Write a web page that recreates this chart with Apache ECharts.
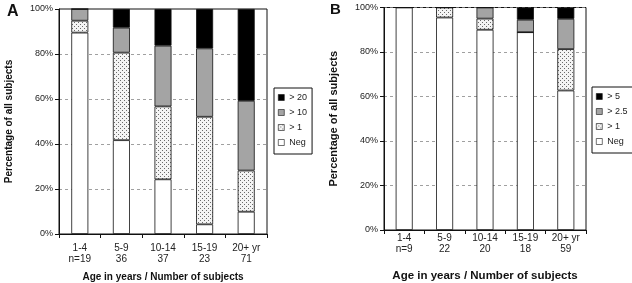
<!DOCTYPE html>
<html>
<head>
<meta charset="utf-8">
<script src="https://cdn.jsdelivr.net/npm/echarts@6/dist/echarts.min.js"></script>
<style>
html, body { margin: 0; padding: 0; background: #fff; }
#chart { width: 632px; height: 283px; }
</style>
</head>
<body>
<div id="chart"></div>
<script>
// categories (age group + number of subjects)
var catsA = ['1-4\nn=19', '5-9\n36', '10-14\n37', '15-19\n23', '20+ yr\n71'];
var catsB = ['1-4\nn=9', '5-9\n22', '10-14\n20', '15-19\n18', '20+ yr\n59'];

// panel A, percent of subjects
var negA = [89.5, 41.7, 24.3, 4.3, 9.9];
var gt1A = [5.3, 38.9, 32.4, 47.8, 18.3];
var gt10A = [5.2, 11.1, 27.0, 30.4, 31.0];
var gt20A = [0, 8.3, 16.3, 17.5, 40.8];

// panel B, percent of subjects
var negB = [100, 95.5, 90, 88.9, 62.7];
var gt1B = [0, 4.5, 5, 0, 18.6];
var gt25B = [0, 0, 5, 5.6, 13.6];
var gt5B = [0, 0, 0, 5.5, 5.1];

var yTicks = [0, 20, 40, 60, 80, 100];

// dotted fill
function dots() {
  var c = document.createElement('canvas');
  c.width = 4; c.height = 4;
  var ctx = c.getContext('2d');
  ctx.fillStyle = '#f4f4f4';
  ctx.fillRect(0, 0, 4, 4);
  ctx.fillStyle = '#6a6a6a';
  ctx.fillRect(0, 0, 1, 1);
  ctx.fillRect(2, 2, 1, 1);
  return c;
}
var dotFill = { image: dots(), repeat: 'repeat' };

var font = 'Liberation Sans, Arial, sans-serif';

function bar(name, data, color, idx, stack) {
  return {
    name: name,
    type: 'bar',
    stack: stack,
    xAxisIndex: idx,
    yAxisIndex: idx,
    barWidth: 17,
    data: data,
    itemStyle: { color: color, borderColor: '#111', borderWidth: 0.8 },
    emphasis: { disabled: true }
  };
}

function xAx(idx, cats, gap, fs, margin) {
  return {
    type: 'category',
    gridIndex: idx,
    data: cats,
    name: 'Age in years / Number of subjects',
    nameLocation: 'middle',
    nameGap: gap,
    nameTextStyle: { fontFamily: font, fontSize: fs, fontWeight: 'bold', color: '#111' },
    axisLine: { lineStyle: { color: '#111', width: 1 } },
    axisTick: { show: true, length: 4, lineStyle: { color: '#111' } },
    axisLabel: { fontFamily: font, fontSize: 10, color: '#222', lineHeight: 11, margin: margin }
  };
}

function yAx(idx, gap, fs) {
  return {
    type: 'value',
    gridIndex: idx,
    min: 0, max: 100, interval: 20,
    name: 'Percentage of all subjects',
    nameLocation: 'middle',
    nameGap: gap,
    nameTextStyle: { fontFamily: font, fontSize: fs, fontWeight: 'bold', color: '#111' },
    axisLine: { show: true, lineStyle: { color: '#111', width: 1 } },
    axisTick: { show: true, length: 4, lineStyle: { color: '#111' } },
    axisLabel: { fontFamily: font, fontSize: 9, color: '#222', margin: 6,
      formatter: function (v) { return yTicks.indexOf(v) >= 0 ? v + '%' : ''; } },
    splitLine: { show: true, lineStyle: { color: '#888', type: [3, 3], width: 0.8 } }
  };
}

var chart = echarts.init(document.getElementById('chart'), null, { renderer: 'canvas' });

var legendStyle = {
  orient: 'vertical',
  icon: 'rect',
  itemWidth: 6,
  itemHeight: 6,
  itemGap: 4,
  padding: [4, 5, 6, 4],
  borderColor: '#111',
  borderWidth: 1,
  selectedMode: false,
  itemStyle: { borderColor: '#111', borderWidth: 0.6 },
  textStyle: { fontFamily: font, fontSize: 9, color: '#222', lineHeight: 11 }
};

chart.setOption({
  animation: false,
  title: [
    { text: 'A', left: 7, top: 4, padding: 0, textStyle: { fontFamily: font, fontSize: 16, fontWeight: 'bold', color: '#111' } },
    { text: 'B', left: 330, top: 2, padding: 0, textStyle: { fontFamily: font, fontSize: 15, fontWeight: 'bold', color: '#111' } }
  ],
  grid: [
    { left: 59, top: 9, width: 208, height: 225, outerBoundsMode: 'none', show: true, borderColor: '#111', borderWidth: 1, backgroundColor: 'transparent' },
    { left: 384, top: 7.5, width: 202, height: 222.5, outerBoundsMode: 'none', show: true, borderColor: '#111', borderWidth: 1, backgroundColor: 'transparent' }
  ],
  legend: [
    Object.assign({ left: 274, top: 88, data: ['> 20', '> 10', '> 1', 'Neg'] }, legendStyle),
    Object.assign({ left: 592, top: 87, data: ['> 5', '> 2.5', '> 1', 'Neg'] }, legendStyle)
  ],
  xAxis: [xAx(0, catsA, 38, 10, 9), xAx(1, catsB, 40, 11.5, 3)],
  yAxis: [yAx(0, 45, 10), yAx(1, 45, 11)],
  series: [
    bar('Neg', negA, '#ffffff', 0, 'a'),
    bar('> 1', gt1A, dotFill, 0, 'a'),
    bar('> 10', gt10A, '#a4a4a4', 0, 'a'),
    bar('> 20', gt20A, '#000000', 0, 'a'),
    bar('Neg', negB, '#ffffff', 1, 'b'),
    bar('> 1', gt1B, dotFill, 1, 'b'),
    bar('> 2.5', gt25B, '#a4a4a4', 1, 'b'),
    bar('> 5', gt5B, '#000000', 1, 'b')
  ]
});
window.onresize = chart.resize;
</script>
</body>
</html>
